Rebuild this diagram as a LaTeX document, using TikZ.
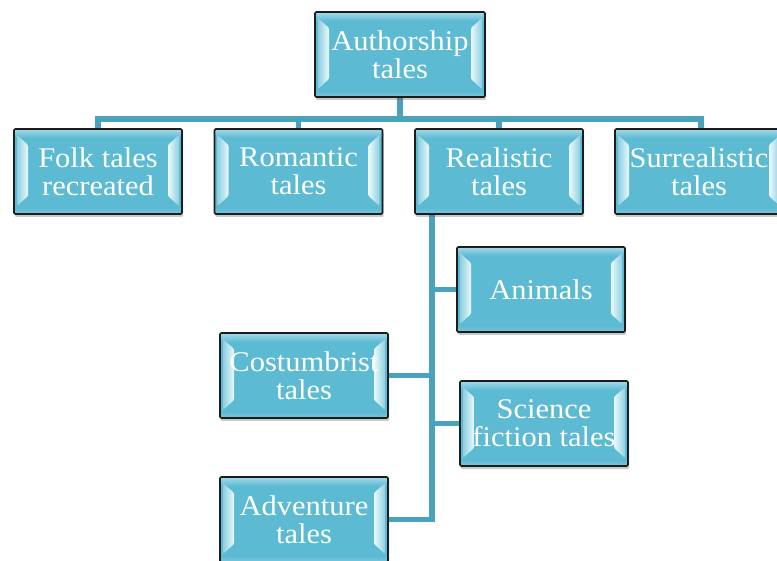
\documentclass[tikz,border=0pt]{standalone}
\usepackage{fontspec}
\setmainfont{Liberation Serif}[FakeStretch=1.07]
\usetikzlibrary{shadows,backgrounds}
\definecolor{boxfill}{RGB}{92,186,211}
\definecolor{bevlight}{RGB}{235,250,253}
\definecolor{connc}{RGB}{74,163,186}
\definecolor{bordc}{RGB}{28,28,28}
\tikzset{
  tale/.style={
    draw=bordc, line width=1.6pt, rounded corners=1.2pt, fill=boxfill,
    minimum width=168pt, minimum height=85pt, inner sep=0pt,
    text=white, align=center,
    font=\fontsize{28.5}{28}\selectfont,
    drop shadow={shadow xshift=1pt, shadow yshift=-3pt, opacity=0.3, fill=black!70},
    path picture={
      \coordinate (@nw) at (path picture bounding box.north west);
      \coordinate (@ne) at (path picture bounding box.north east);
      \coordinate (@sw) at (path picture bounding box.south west);
      \coordinate (@se) at (path picture bounding box.south east);
      \shade[top color=boxfill!55!white, bottom color=boxfill]
        (@nw) rectangle ([yshift=-9pt]@ne);
      \shade[top color=boxfill, bottom color=boxfill!80!white]
        ([yshift=6pt]@sw) rectangle (@se);
      \shade[left color=boxfill!70!white, right color=bevlight]
        ([xshift=3pt,yshift=-6pt]@nw) -- ([xshift=14pt,yshift=-16pt]@nw)
        -- ([xshift=14pt,yshift=18pt]@sw) -- ([xshift=3pt,yshift=8pt]@sw) -- cycle;
      \shade[left color=bevlight, right color=boxfill!70!white]
        ([xshift=-3pt,yshift=-6pt]@ne) -- ([xshift=-14pt,yshift=-16pt]@ne)
        -- ([xshift=-14pt,yshift=18pt]@se) -- ([xshift=-3pt,yshift=8pt]@se) -- cycle;
    }
  },
  conn/.style={draw=connc, line width=5.5pt}
}
\begin{document}
\begin{tikzpicture}[x=1pt,y=-1pt]
\useasboundingbox (0,0) rectangle (777,561);
\begin{scope}
\clip (0,0) rectangle (777,561);
% boxes
\node[tale, minimum width=170pt] (auth) at (400,54.5) {Authorship\\tales};
\node[tale] (folk) at (98,171.5) {Folk tales\\recreated};
\node[tale] (rom) at (298.5,171.5) {Romantic\\tales};
\node[tale] (real) at (499,171.5) {Realistic\\tales};
\node[tale] (sur) at (699,171.5) {Surrealistic\\tales};
\node[tale] (anim) at (541,289.5) {Animals};
\node[tale] (cost) at (304,375.5) {Costumbrist\\tales};
\node[tale] (sci) at (544,423.5) {Science\\fiction tales};
\node[tale] (adv) at (304,519.5) {Adventure\\tales};
% connectors
\begin{scope}[on background layer]
\coordinate (bus) at ([yshift=-21pt]auth.south);
\coordinate (trunk) at ([xshift=18pt]real.south west);
\draw[conn] (auth.south) -- (bus);
\draw[conn] (bus) -| (folk.north);
\draw[conn] (bus) -| (rom.north);
\draw[conn] (bus) -| (real.north);
\draw[conn] (bus) -| ([xshift=2pt]sur.north);
\draw[conn] (trunk) |- (anim.west);
\draw[conn] (trunk) |- (cost.east);
\draw[conn] (trunk) |- (sci.west);
\draw[conn] (trunk) |- (adv.east);
\end{scope}
\end{scope}
\end{tikzpicture}
\end{document}
